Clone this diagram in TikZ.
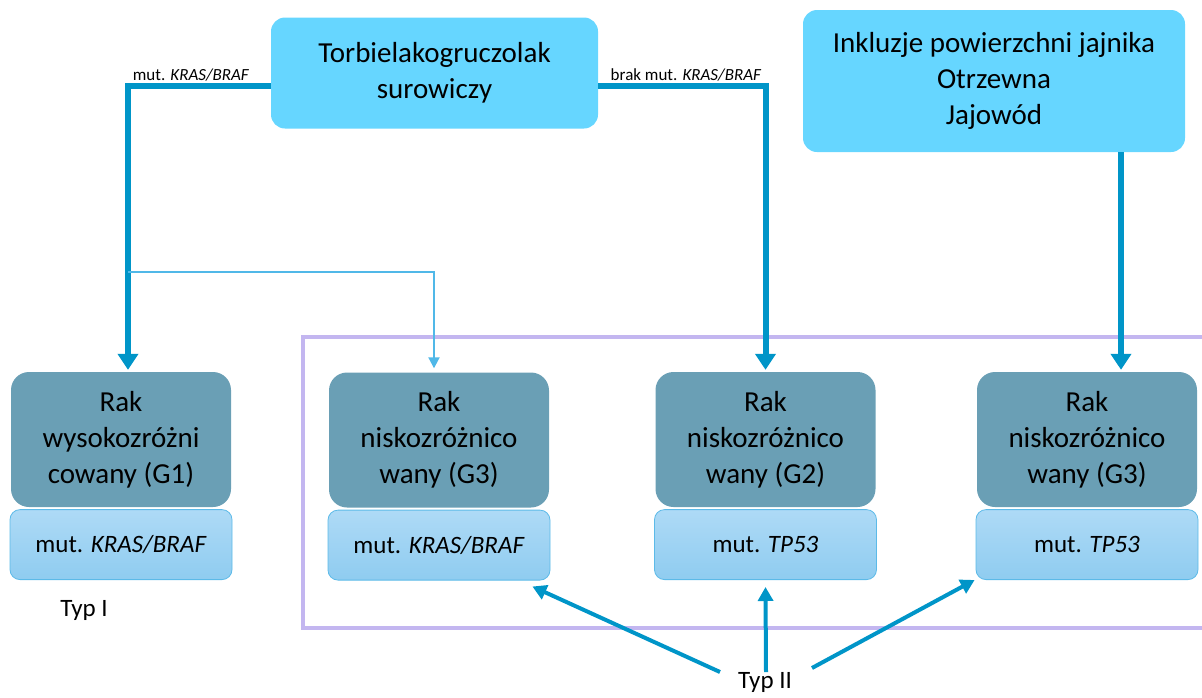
\documentclass[tikz,border=0pt]{standalone}
\usepackage{fontspec}
\setmainfont{Carlito}
\usetikzlibrary{positioning,arrows.meta}
\definecolor{topcyan}{RGB}{102,214,255}
\definecolor{darkteal}{RGB}{106,159,181}
\definecolor{paleblue1}{RGB}{174,218,246}
\definecolor{paleblue2}{RGB}{143,204,240}
\definecolor{paleedge}{RGB}{92,186,232}
\definecolor{arrowblue}{RGB}{0,149,200}
\definecolor{thinblue}{RGB}{80,184,232}
\definecolor{framepurple}{RGB}{195,182,240}

\begin{document}
\begin{tikzpicture}[x=1pt,y=-1pt,
  srcbox/.style={fill=topcyan,rounded corners=14pt,align=center,
    font=\fontsize{29}{36}\selectfont},
  rakbox/.style={fill=darkteal,rounded corners=18pt,minimum width=220pt,
    minimum height=135pt,align=center,font=\fontsize{29}{36}\selectfont},
  mutbox/.style={draw=paleedge,thick,top color=paleblue1,bottom color=paleblue2,
    rounded corners=10pt,minimum width=222pt,minimum height=70pt,
    font=\fontsize{25}{30}\selectfont},
  thickarr/.style={draw=arrowblue,line width=6pt,
    -{Triangle[width=20pt,length=16pt]},shorten >=2pt},
  thinarr/.style={draw=thinblue,line width=2pt,
    -{Triangle[width=11pt,length=11pt]},shorten >=4pt},
  typarr/.style={draw=arrowblue,line width=4pt,
    -{Triangle[width=15pt,length=14pt]}},
  arrlabel/.style={font=\fontsize{17}{20}\selectfont,inner sep=1pt},
  typlabel/.style={font=\fontsize{25}{30}\selectfont}]

  \useasboundingbox (0,0) rectangle (1202,697);

  % frame round type II
  \draw[framepurple,line width=4pt] (1210,337) -- (303,337) -- (303,628) -- (1210,628);

  % sources
  \node[srcbox,minimum width=327pt,minimum height=111pt] (torb) at (434.5,73)
    {Torbielakogruczolak\\surowiczy};
  \node[srcbox,minimum width=382pt,minimum height=142pt] (inkl) at (994,81)
    {Inkluzje powierzchni jajnika\\Otrzewna\\Jajowód};

  % tumours
  \node[rakbox] (rak1) at (121,439.5) {Rak\\wysokozróżni\\cowany (G1)};
  \node[rakbox] (rak2) at (439,440) {Rak\\niskozróżnico\\wany (G3)};
  \node[rakbox] (rak3) at (765.5,439.5) {Rak\\niskozróżnico\\wany (G2)};
  \node[rakbox] (rak4) at (1087,439.5) {Rak\\niskozróżnico\\wany (G3)};

  \node[mutbox,below=2pt of rak1] (mut1) {mut. \textit{KRAS/BRAF}};
  \node[mutbox,below=2pt of rak2] (mut2) {mut. \textit{KRAS/BRAF}};
  \node[mutbox,below=2pt of rak3] (mut3) {mut. \textit{TP53}};
  \node[mutbox,below=2pt of rak4] (mut4) {mut. \textit{TP53}};

  \node[typlabel] (typ1) at (84,610) {Typ I};
  \node[typlabel] (typ2) at (765,682) {Typ II};

  % pathways
  \draw[thickarr] ([yshift=-13pt]torb.west) -| ([xshift=7pt]rak1.north);
  \draw[thickarr] ([yshift=-13pt]torb.east) -| (rak3.north);
  \draw[thickarr] ([xshift=127pt]inkl.south) -- ([xshift=34pt]rak4.north);
  \coordinate (split) at (128,272);
  \draw[thinarr] (split) -| ([xshift=-5pt]rak2.north);

  \node[arrlabel,anchor=south] (lblkras) at (191,82) {mut. \textit{KRAS/BRAF}};
  \node[arrlabel,anchor=south] (lblbrak) at (686,82) {brak mut. \textit{KRAS/BRAF}};

  \draw[typarr] ([xshift=-45pt,yshift=10pt]typ2.center) -- ([xshift=-18pt,yshift=-6pt]mut2.south east);
  \draw[typarr] ([xshift=1pt,yshift=10pt]typ2.center) -- ([yshift=-7pt]mut3.south);
  \draw[typarr] ([xshift=47pt,yshift=14pt]typ2.center) -- ([xshift=-1pt]mut4.south west);

\end{tikzpicture}
\end{document}
